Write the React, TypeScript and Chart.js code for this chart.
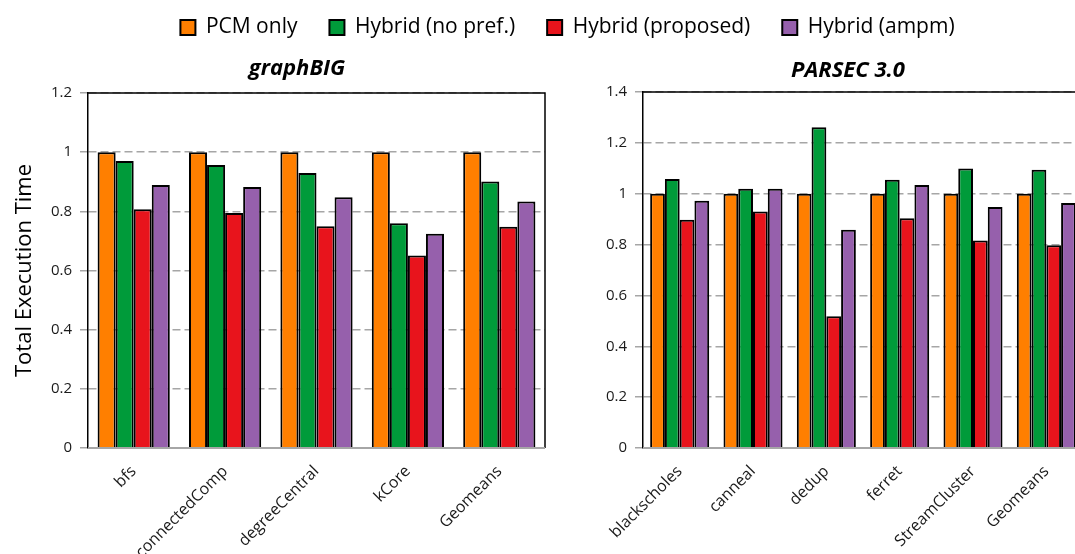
import React, { useEffect, useRef } from 'react';
import { Chart, registerables } from 'chart.js';
Chart.register(...registerables);

const seriesNames = ['PCM only', 'Hybrid (no pref.)', 'Hybrid (proposed)', 'Hybrid (ampm)'];
const seriesColors = ['#FF7F00', '#009B3A', '#E8141C', '#9660AC'];

const graphTitle = 'graphBIG';
const graphCategories = ['bfs', 'connectedComp', 'degreeCentral', 'kCore', 'Geomeans'];
const graphPcm = [1, 1, 1, 1, 1];
const graphNoPref = [0.97, 0.957, 0.93, 0.76, 0.901];
const graphProposed = [0.807, 0.794, 0.75, 0.651, 0.748];
const graphAmpm = [0.889, 0.882, 0.848, 0.724, 0.833];

const parsecTitle = 'PARSEC 3.0';
const parsecCategories = ['blackscholes', 'canneal', 'dedup', 'ferret', 'StreamCluster', 'Geomeans'];
const parsecPcm = [1, 1, 1, 1, 1, 1];
const parsecNoPref = [1.058, 1.02, 1.261, 1.055, 1.099, 1.094];
const parsecProposed = [0.898, 0.93, 0.518, 0.904, 0.816, 0.797];
const parsecAmpm = [0.972, 1.02, 0.858, 1.034, 0.948, 0.963];

const yAxisTitle = 'Total Execution Time';
const graphYMax = 1.2;
const parsecYMax = 1.4;
const yStep = 0.2;

const FONT = "'Open Sans', 'Noto Sans', sans-serif";

const panelTitlePlugin = {
  id: 'panelTitle',
  afterDraw(chart: any, _args: any, opts: any) {
    if (!opts || !opts.text) return;
    const ctx = chart.ctx;
    ctx.save();
    ctx.font = `italic bold 22px ${FONT}`;
    ctx.fillStyle = '#000';
    ctx.textAlign = 'center';
    ctx.textBaseline = 'alphabetic';
    ctx.fillText(opts.text, opts.x, opts.y);
    ctx.restore();
  },
};

const framePlugin = {
  id: 'frame',
  afterDatasetsDraw(chart: any, _args: any, opts: any) {
    if (!opts || !opts.enabled) return;
    const { ctx, chartArea } = chart;
    ctx.save();
    ctx.strokeStyle = '#000';
    ctx.lineWidth = 1.5;
    ctx.beginPath();
    ctx.moveTo(chartArea.left, chartArea.top);
    ctx.lineTo(chartArea.right, chartArea.top);
    ctx.lineTo(chartArea.right, chartArea.bottom);
    ctx.stroke();
    ctx.strokeStyle = '#A6A6A6';
    ctx.lineWidth = 2;
    ctx.beginPath();
    ctx.moveTo(chartArea.left, chartArea.bottom);
    ctx.lineTo(chartArea.right, chartArea.bottom);
    ctx.stroke();
    ctx.restore();
  },
};

function makeDatasets(values: number[][]) {
  return seriesNames.map((name, i) => ({
    label: name,
    data: values[i],
    backgroundColor: seriesColors[i],
    borderColor: '#000',
    borderWidth: 2,
  }));
}

function panelConfig(opts: {
  categories: string[];
  values: number[][];
  yMax: number;
  title: string;
  titleX: number;
  titleY: number;
  padding: any;
  yWidth: number;
  xHeight: number;
  catPct: number;
  showYTitle: boolean;
}) {
  return {
    type: 'bar',
    data: { labels: opts.categories, datasets: makeDatasets(opts.values) },
    plugins: [panelTitlePlugin, framePlugin],
    options: {
      responsive: false,
      animation: false,
      events: [],
      layout: { padding: opts.padding },
      datasets: { bar: { categoryPercentage: opts.catPct, barPercentage: 1 } },
      plugins: {
        legend: { display: false },
        tooltip: { enabled: false },
        title: { display: false },
        panelTitle: { text: opts.title, x: opts.titleX, y: opts.titleY },
        frame: { enabled: true },
      },
      scales: {
        x: {
          grid: { display: false },
          border: { display: false },
          ticks: {
            minRotation: 45,
            maxRotation: 45,
            autoSkip: false,
            padding: 6,
            color: '#1a1a1a',
            font: { family: FONT, size: 16 },
          },
          afterFit(scale: any) {
            scale.height = opts.xHeight;
          },
        },
        y: {
          min: 0,
          max: opts.yMax,
          ticks: {
            stepSize: yStep,
            padding: 8,
            color: '#1a1a1a',
            font: { family: FONT, size: 15 },
            callback: (v: any) => String(Math.round(Number(v) * 10) / 10),
          },
          grid: {
            color: '#A6A6A6',
            lineWidth: 1.5,
            tickLength: 8,
            tickColor: '#A6A6A6',
            tickWidth: 1.5,
          },
          border: { display: true, color: '#000', width: 1.5, dash: [8, 4] },
          title: {
            display: opts.showYTitle,
            text: yAxisTitle,
            color: '#000',
            font: { family: FONT, size: 22 },
            padding: { top: 12, bottom: 0 },
          },
          afterFit(scale: any) {
            scale.width = opts.yWidth;
          },
        },
      },
    },
  };
}

function ChartCanvas({ config, left, top, width, height }: any) {
  const ref = useRef<HTMLCanvasElement | null>(null);
  useEffect(() => {
    if (!ref.current) return;
    const chart = new Chart(ref.current, config());
    return () => chart.destroy();
  }, []);
  return (
    <canvas
      ref={ref}
      width={width}
      height={height}
      style={{ position: 'absolute', left, top, width, height }}
    />
  );
}

function legendConfig() {
  return {
    type: 'bar',
    data: { labels: [], datasets: makeDatasets([[], [], [], []]) },
    options: {
      responsive: false,
      animation: false,
      events: [],
      layout: { padding: { top: 0 } },
      plugins: {
        tooltip: { enabled: false },
        legend: {
          display: true,
          position: 'top',
          maxHeight: 80,
          labels: {
            boxWidth: 15,
            boxHeight: 15,
            padding: 32,
            color: '#000',
            font: { family: FONT, size: 21 },
          },
        },
      },
      scales: { x: { display: false }, y: { display: false } },
    },
  };
}

export default function App() {
  const leftConfig = () =>
    panelConfig({
      categories: graphCategories,
      values: [graphPcm, graphNoPref, graphProposed, graphAmpm],
      yMax: graphYMax,
      title: graphTitle,
      titleX: 297,
      titleY: 75,
      padding: { top: 93, left: 0, right: 55, bottom: 0 },
      yWidth: 88,
      xHeight: 106,
      catPct: 0.79,
      showYTitle: true,
    });
  const rightConfig = () =>
    panelConfig({
      categories: parsecCategories,
      values: [parsecPcm, parsecNoPref, parsecProposed, parsecAmpm],
      yMax: parsecYMax,
      title: parsecTitle,
      titleX: 248,
      titleY: 77,
      padding: { top: 92, left: 0, right: 7, bottom: 0 },
      yWidth: 43,
      xHeight: 106,
      catPct: 0.805,
      showYTitle: false,
    });
  return (
    <div
      style={{
        position: 'fixed',
        left: 0,
        top: 0,
        width: 1075,
        height: 554,
        overflow: 'hidden',
        background: '#fff',
      }}
    >
      <ChartCanvas config={leftConfig} left={0} top={0} width={600} height={554} />
      <ChartCanvas config={rightConfig} left={600} top={0} width={490} height={554} />
      <ChartCanvas config={legendConfig} left={30} top={-15} width={1075} height={160} />
    </div>
  );
}
